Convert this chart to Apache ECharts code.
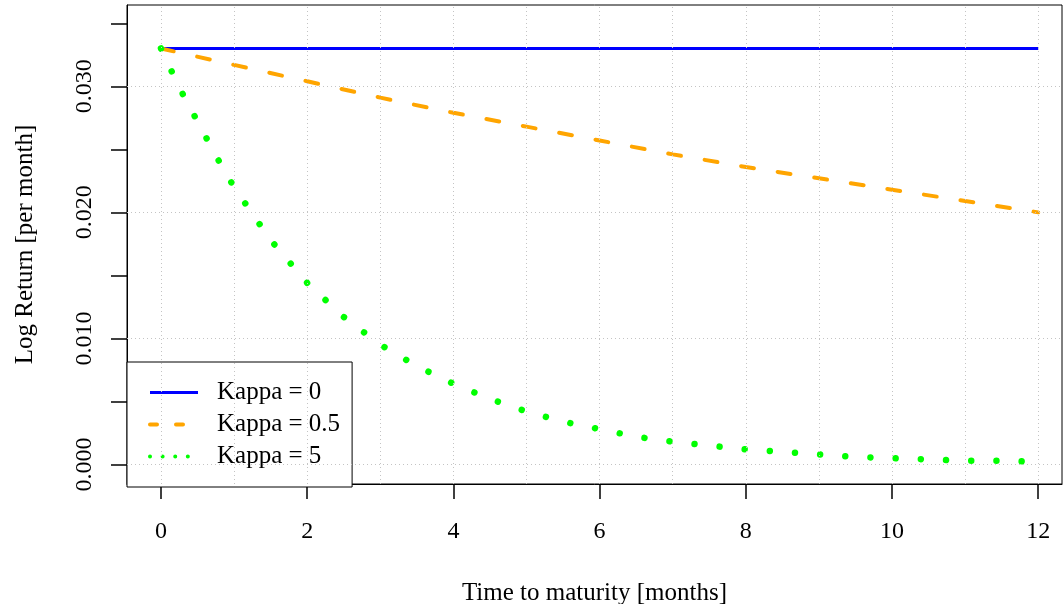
<!DOCTYPE html>
<html>
<head>
<meta charset="utf-8">
<script src="https://cdn.jsdelivr.net/npm/echarts@6/dist/echarts.min.js"></script>
<style>
  html, body { margin: 0; padding: 0; background: #fff; }
  #chart { width: 1064px; height: 604px; }
</style>
</head>
<body>
<div id="chart"></div>
<script>
// values
var seriesNames = ['Kappa = 0', 'Kappa = 0.5', 'Kappa = 5'];

var kappa0 = [[0, 0.0330], [12, 0.0330]];

var kappaHalf = [
    [0, 0.0330], [1, 0.0317], [2, 0.0304], [3, 0.0291], [4, 0.0279],
    [5, 0.0268], [6, 0.0257], [7, 0.0246], [8, 0.0236], [9, 0.0227],
    [10, 0.0218], [11, 0.0209], [12, 0.0200]
];

var kappa5 = [
    [0, 0.0330], [0.25, 0.0299], [0.5, 0.0272], [0.75, 0.0245], [1, 0.0220],
    [1.5, 0.0178], [2, 0.0144], [2.5, 0.0117], [3, 0.0095], [3.5, 0.0078],
    [4, 0.0064], [4.5, 0.0052], [5, 0.0042], [5.5, 0.0034], [6, 0.0028],
    [6.5, 0.0022], [7, 0.0018], [7.5, 0.0015], [8, 0.0012], [8.5, 0.0010],
    [9, 0.0008], [9.5, 0.0006], [10, 0.0005], [10.5, 0.0004], [11, 0.0003],
    [11.5, 0.0003], [12, 0.0002]
];

var xTickLabels = [0, 2, 4, 6, 8, 10, 12];
var yTickLabels = [0, 0.01, 0.02, 0.03];
var yTicks = [0, 0.005, 0.01, 0.015, 0.02, 0.025, 0.03, 0.035];
var gridMonths = [0, 1, 2, 3, 4, 5, 6, 7, 8, 9, 10, 11, 12];
var gridReturns = yTicks;

var font = '"Liberation Serif", "Times New Roman", serif';

var chart = echarts.init(document.getElementById('chart'));

var gridLines = [];
gridMonths.forEach(function (m) { gridLines.push({ xAxis: m }); });
gridReturns.forEach(function (r) { gridLines.push({ yAxis: r }); });

var option = {
    animation: false,
    backgroundColor: '#fff',
    textStyle: { fontFamily: font },
    grid: {
        left: 127, right: 2, top: 5, bottom: 120,
        outerBoundsMode: 'none', containLabel: false,
        show: true, borderColor: '#000', borderWidth: 1, backgroundColor: 'transparent'
    },
    legend: {
        orient: 'vertical',
        left: 127, top: 362,
        data: [
            { name: seriesNames[0], lineStyle: { width: 3 } },
            { name: seriesNames[1], lineStyle: { width: 4, type: [7, 19], cap: 'round' } },
            { name: seriesNames[2], lineStyle: { width: 4, type: [0.01, 12.6], cap: 'round' } }
        ],
        itemWidth: 48, itemHeight: 14, itemGap: 7,
        itemStyle: { opacity: 0 },
        padding: [18, 12, 18, 21],
        backgroundColor: '#fff',
        borderColor: '#000', borderWidth: 1, borderRadius: 0,
        textStyle: { fontFamily: font, fontSize: 25, color: '#000', lineHeight: 24, padding: [0, 0, 0, 14] }
    },
    xAxis: {
        type: 'value',
        min: -0.465, max: 12.325,
        name: 'Time to maturity [months]',
        nameLocation: 'middle', nameGap: 97,
        nameTextStyle: { fontFamily: font, fontSize: 25, color: '#000' },
        axisLine: { show: true, onZero: false, lineStyle: { color: '#000', width: 1 } },
        axisTick: { show: true, length: 15, customValues: xTickLabels, lineStyle: { color: '#000', width: 1.5 } },
        axisLabel: {
            customValues: xTickLabels, margin: 36,
            fontFamily: font, fontSize: 24, color: '#000',
            formatter: function (v) { return String(v); }
        },
        splitLine: { show: false }
    },
    yAxis: {
        type: 'value',
        min: -0.00155, max: 0.03645,
        name: 'Log Return [per month]',
        nameLocation: 'middle', nameGap: 89,
        nameTextStyle: { fontFamily: font, fontSize: 25, color: '#000' },
        axisLine: { show: true, onZero: false, lineStyle: { color: '#000', width: 1 } },
        axisTick: { show: true, length: 16, customValues: yTicks, lineStyle: { color: '#000', width: 1.5 } },
        axisLabel: {
            customValues: yTickLabels, rotate: 90, margin: 30.5,
            fontFamily: font, fontSize: 24, color: '#000',
            formatter: function (v) { return v.toFixed(3); }
        },
        splitLine: { show: false }
    },
    series: [
        {
            name: 'grid',
            type: 'line',
            data: [],
            silent: true,
            z: 1,
            markLine: {
                silent: true,
                symbol: ['none', 'none'],
                label: { show: false },
                lineStyle: { color: '#c4c4c4', type: [1, 3], width: 1 },
                data: gridLines
            }
        },
        {
            name: seriesNames[0],
            type: 'line',
            data: kappa0,
            showSymbol: false, symbol: 'none',
            z: 2,
            lineStyle: { color: '#0000ff', width: 3 },
            itemStyle: { color: '#0000ff' }
        },
        {
            name: seriesNames[1],
            type: 'line',
            data: kappaHalf,
            showSymbol: false, symbol: 'none',
            z: 3,
            lineStyle: { color: '#ffa500', width: 4, type: [13, 24], cap: 'round' },
            itemStyle: { color: '#ffa500' }
        },
        {
            name: seriesNames[2],
            type: 'line',
            data: kappa5,
            showSymbol: false, symbol: 'none',
            z: 4,
            lineStyle: { color: '#00ff00', width: 6.5, type: [0.01, 25.2], cap: 'round' },
            itemStyle: { color: '#00ff00' }
        }
    ]
};

chart.setOption(option);
</script>
</body>
</html>
